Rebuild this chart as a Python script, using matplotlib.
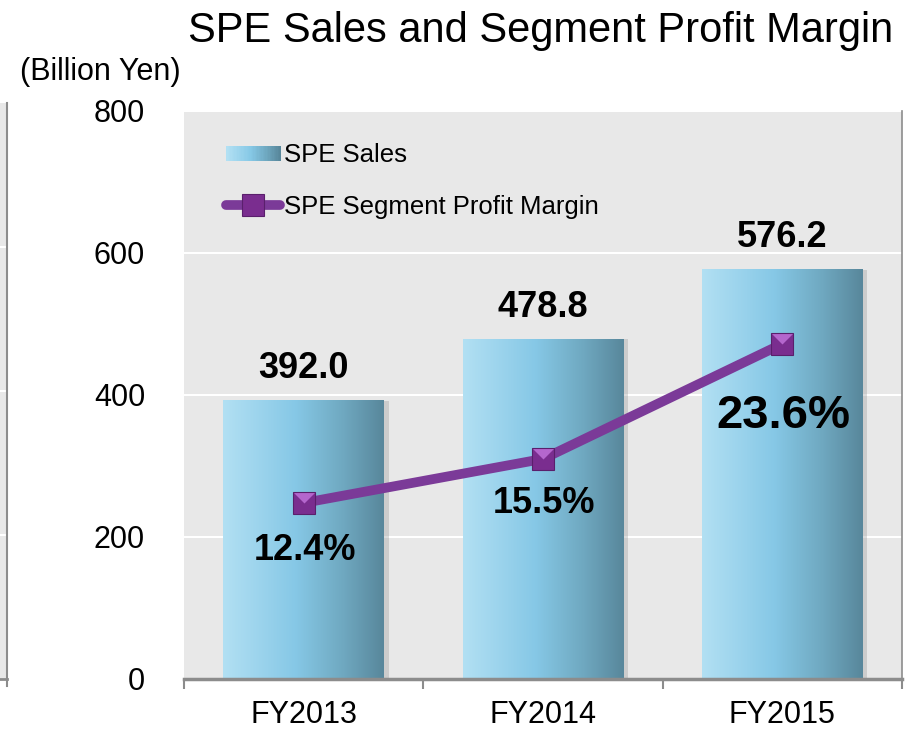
import numpy as np
import matplotlib
matplotlib.use('Agg')
import matplotlib.pyplot as plt
from matplotlib.legend_handler import HandlerBase
from matplotlib.patches import Rectangle
from matplotlib.lines import Line2D
from matplotlib.path import Path
from matplotlib.colors import LinearSegmentedColormap

plt.rcParams['font.family'] = ['Liberation Sans', 'DejaVu Sans']

# data
years = ['FY2013', 'FY2014', 'FY2015']
sales = [392.0, 478.8, 576.2]          # billion yen
margin = [12.4, 15.5, 23.6]            # percent
sales_labels = ['392.0', '478.8', '576.2']
margin_labels = ['12.4%', '15.5%', '23.6%']
yticks = [0, 200, 400, 600, 800]

bar_cmap = LinearSegmentedColormap.from_list(
    'spe', [(0.0, '#b2e0f3'), (0.45, '#86c8e6'), (0.75, '#6fa8c0'), (1.0, '#58879b')])
purple = '#7b3a98'

W, H = 922, 732
fig = plt.figure(figsize=(W / 100, H / 100), dpi=100)

def fx(px):
    return px / W

def fy(py):
    return 1 - py / H

# sliver of the neighbouring chart at the left edge
fig.patches.append(Rectangle((0, fy(679)), fx(6), fy(103) - fy(679),
                             transform=fig.transFigure, facecolor='#e8e8e8', edgecolor='none'))
for gy in [247, 391, 535]:
    fig.lines.append(Line2D([0, fx(6)], [fy(gy), fy(gy)], transform=fig.transFigure,
                            color='white', lw=1.5))
fig.lines.append(Line2D([fx(6.5), fx(6.5)], [fy(103), fy(686)], transform=fig.transFigure,
                        color='#8c8c8c', lw=1.5))
fig.lines.append(Line2D([0, fx(6.5)], [fy(679), fy(679)], transform=fig.transFigure,
                        color='#8c8c8c', lw=2))

ax = fig.add_axes([fx(184), fy(679), fx(902) - fx(184), fy(111) - fy(679)])
ax.set_facecolor('#e8e8e8')
ax.set_xlim(-0.5, 2.5)
ax.set_ylim(0, 800)
ax.set_yticks(yticks)
ax.set_yticklabels([str(v) for v in yticks], fontsize=22)
ax.tick_params(axis='y', length=0, pad=28)
ax.set_xticks(range(len(years)))
ax.set_xticklabels(years, fontsize=22)
ax.set_xticks([-0.5, 0.5, 1.5, 2.5], minor=True)
ax.tick_params(axis='x', which='major', length=0, pad=15)
ax.tick_params(axis='x', which='minor', length=7, width=1.5, color='#8c8c8c', direction='out')
ax.grid(axis='y', color='white', lw=1.5)
ax.set_axisbelow(True)
for side in ['left', 'top']:
    ax.spines[side].set_visible(False)
ax.spines['right'].set_color('#8c8c8c')
ax.spines['right'].set_linewidth(1.2)
ax.spines['bottom'].set_color('#8c8c8c')
ax.spines['bottom'].set_linewidth(2.5)

bw = 0.67
x = np.arange(len(years))
grad = np.linspace(0, 1, 256).reshape(1, -1)
# soft shadow to the right
ax.bar(x + 0.02, sales, bw, color='#9a9a9a', alpha=0.35, zorder=1)
bars = ax.bar(x, sales, bw, color='none', zorder=2)
for b in bars:
    x0, x1 = b.get_x(), b.get_x() + b.get_width()
    ax.imshow(grad, cmap=bar_cmap, extent=[x0, x1, 0, b.get_height()],
              aspect='auto', zorder=2, interpolation='bicubic')
ax.set_xlim(-0.5, 2.5)
ax.set_ylim(0, 800)

for xi, v, lab in zip(x, sales, sales_labels):
    ax.annotate(lab, (xi, v), xytext=(0, 23), textcoords='offset points',
                ha='center', va='center', fontsize=26, fontweight='bold')

# margin line on a hidden secondary axis
ax2 = ax.twinx()
ax2.set_ylim(0, 40)
ax2.axis('off')
ax2.plot(x, margin, color=purple, lw=7, solid_capstyle='round', zorder=3)
ax2.plot(x, margin, ls='none', marker='s', ms=16, mfc='#7a2d8f', mec='#5a1f6c', mew=0.8, zorder=4)
top_tri = Path([(-1, 1), (1, 1), (0, 0), (-1, 1)])
ax2.plot(x, margin, ls='none', marker=top_tri, ms=15, mfc='#b466cd', mec='none', zorder=5)

offsets = [-34, -32, -52]
sizes = [26, 26, 34]
for xi, v, lab, off, fs in zip(x, margin, margin_labels, offsets, sizes):
    ax2.annotate(lab, (xi, v), xytext=(1, off), textcoords='offset points',
                 ha='center', va='center', fontsize=fs, fontweight='bold')


class GradientHandler(HandlerBase):
    def create_artists(self, legend, orig_handle, xdescent, ydescent, width, height, fontsize, trans):
        n = 40
        arts = []
        h = height * 0.8
        y0 = -ydescent + (height - h) / 2
        for i in range(n):
            r = Rectangle((-xdescent + width * i / n, y0), width / n + 0.3, h,
                          facecolor=bar_cmap(i / (n - 1)), edgecolor='none', transform=trans)
            arts.append(r)
        return arts


sales_handle = Rectangle((0, 0), 1, 1)
line_handle = Line2D([], [], color=purple, lw=7, solid_capstyle='round',
                     marker='s', ms=16, mfc='#7a2d8f', mec='#5a1f6c', mew=0.8)
leg = ax.legend([sales_handle, line_handle], ['SPE Sales', 'SPE Segment Profit Margin'],
                handler_map={Rectangle: GradientHandler()},
                loc='upper left', bbox_to_anchor=(0.059, 0.943), frameon=False,
                fontsize=18.5, handlelength=2.1, handletextpad=0.15, labelspacing=1.08,
                borderpad=0, borderaxespad=0)

fig.text(fx(188), fy(42), 'SPE Sales and Segment Profit Margin', fontsize=30,
         ha='left', va='baseline')
fig.text(fx(20), fy(72), '(Billion Yen)', fontsize=22, ha='left', va='center')

fig.savefig('out.png', dpi=100)
